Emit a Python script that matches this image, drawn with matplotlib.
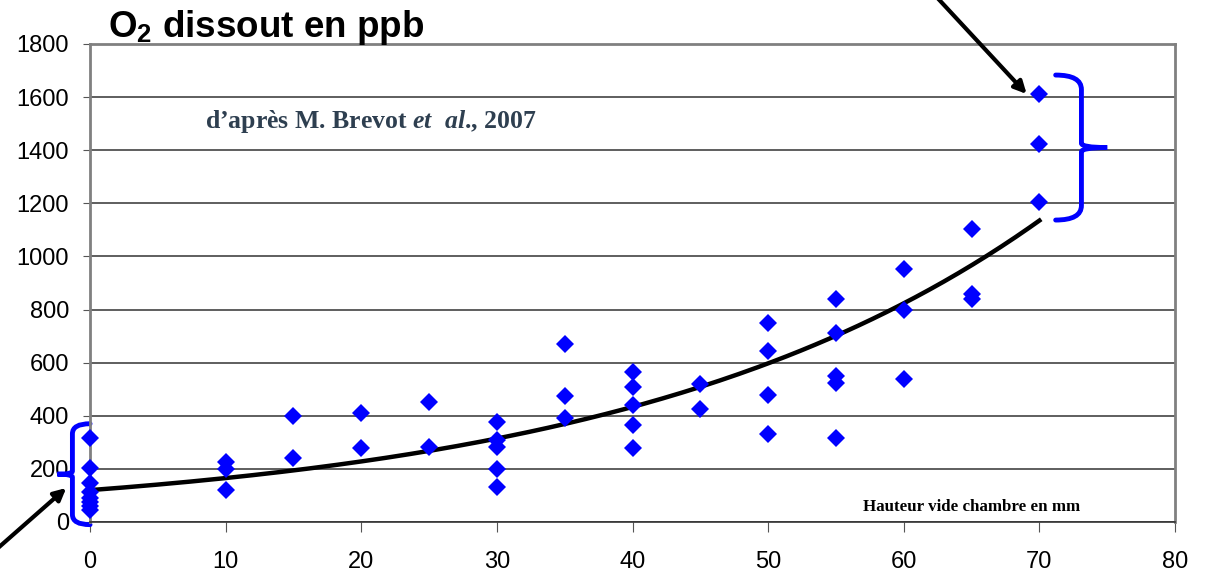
import matplotlib
matplotlib.use("Agg")
import matplotlib.pyplot as plt
from matplotlib.path import Path
from matplotlib.patches import PathPatch
import numpy as np

plt.rcParams["mathtext.fontset"] = "custom"
plt.rcParams["mathtext.bf"] = "Liberation Sans:bold"
plt.rcParams["mathtext.it"] = "Liberation Serif:italic:bold"
plt.rcParams["mathtext.rm"] = "Liberation Sans"

# hauteur vide chambre (mm) -> O2 dissous (ppb)
h0 = [315, 205, 145, 112, 92, 75, 60, 45]
h10 = [225, 200, 120]
h15 = [400, 240]
h20 = [410, 278]
h25 = [450, 283]
h30 = [375, 310, 282, 200, 130]
h35 = [670, 475, 390]
h40 = [565, 510, 440, 365, 280]
h45 = [520, 425]
h50 = [750, 645, 480, 333]
h55 = [840, 712, 550, 525, 315]
h60 = [953, 798, 540]
h65 = [1105, 860, 838]
h70 = [1610, 1425, 1205]

hauteurs = [0, 10, 15, 20, 25, 30, 35, 40, 45, 50, 55, 60, 65, 70]
mesures = [h0, h10, h15, h20, h25, h30, h35, h40, h45, h50, h55, h60, h65, h70]

# courbe de tendance exponentielle
trend_a = 120
trend_b = 0.0321

x = []
y = []
for h, vals in zip(hauteurs, mesures):
    for v in vals:
        x.append(h)
        y.append(v)

fig = plt.figure(figsize=(12.07, 5.75), dpi=100)
ax = fig.add_axes([0.0746, 0.0922, 0.8989, 0.8313])

ax.set_xlim(0, 80)
ax.set_ylim(0, 1800)
ax.set_xticks(range(0, 81, 10))
ax.set_yticks(range(0, 1801, 200))
ax.yaxis.grid(True, color="#333333", linewidth=1.1)
ax.set_axisbelow(True)
for s in ["top", "right", "left"]:
    ax.spines[s].set_color("#808080")
    ax.spines[s].set_linewidth(2)
ax.spines["bottom"].set_color("#333333")
ax.spines["bottom"].set_linewidth(1.2)
ax.tick_params(axis="y", direction="out", length=5, pad=10, labelsize=17,
               color="#555555")
ax.tick_params(axis="x", direction="out", length=7, pad=14, labelsize=17,
               color="#555555")
for lab in ax.get_xticklabels() + ax.get_yticklabels():
    lab.set_fontfamily("Liberation Sans")

xt = np.linspace(0, 70, 200)
ax.plot(xt, trend_a * np.exp(trend_b * xt), color="black", linewidth=3.2,
        zorder=3)
ax.plot(x, y, linestyle="none", marker="D", markersize=9, color="#0000FF",
        markeredgewidth=0, zorder=4, clip_on=False)

fig.text(0.0895, 0.935, "O$_{\\mathbf{2}}$ dissout en ppb", fontsize=26.5,
         fontweight="bold", family="Liberation Sans", ha="left",
         va="baseline")
ax.text(8.5, 1485, "d\u2019apr\u00e8s M. Brevot $\\it{et\\ \\ al}$., 2007",
        fontsize=18.5, fontweight="bold", family="Liberation Serif",
        color="#2E3F50")
ax.text(57.0, 42, "Hauteur vide chambre en mm", fontsize=12.2,
        fontweight="bold", family="Liberation Serif", color="black")

# fleches
ax.annotate("", xy=(69.2, 1604), xytext=(62.0, 2000),
            arrowprops=dict(arrowstyle="-|>", color="black", lw=3,
                            mutation_scale=18),
            annotation_clip=False)
ax.annotate("", xy=(-1.6, 135), xytext=(-7.5, -130),
            arrowprops=dict(arrowstyle="-|>", color="black", lw=3,
                            mutation_scale=18),
            annotation_clip=False)


def accolade(x_end, x_mid, x_tip, y0, y1):
    ym = (y0 + y1) / 2
    r = (y1 - y0) * 0.1
    verts = [(x_end, y0), (x_mid, y0), (x_mid, y0 + r), (x_mid, y0 + r),
             (x_mid, ym - r * 0.3), (x_mid, ym), (x_tip, ym),
             (x_mid, ym), (x_mid, ym + r * 0.3), (x_mid, y1 - r),
             (x_mid, y1), (x_end, y1)]
    codes = [Path.MOVETO, Path.CURVE3, Path.CURVE3, Path.LINETO,
             Path.LINETO, Path.CURVE3, Path.CURVE3,
             Path.CURVE3, Path.CURVE3, Path.LINETO,
             Path.CURVE3, Path.CURVE3]
    p = PathPatch(Path(verts, codes), facecolor="none", edgecolor="#0000FF",
                  linewidth=3.5, clip_on=False, capstyle="round")
    ax.add_patch(p)


accolade(0.0, -1.3, -2.4, -10, 370)
accolade(71.2, 73.1, 75.0, 1137, 1683)

fig.savefig("out.png", dpi=100)
